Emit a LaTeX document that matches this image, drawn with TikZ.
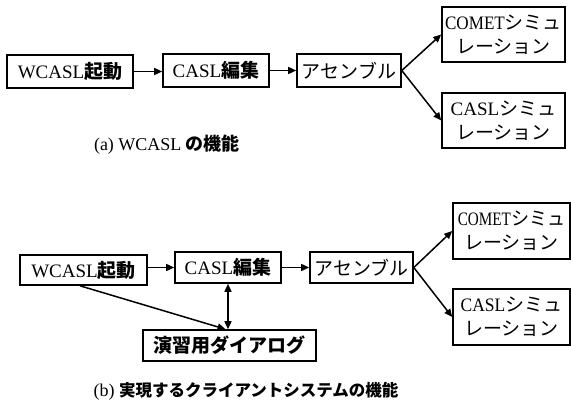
\documentclass[tikz,border=0pt]{standalone}
\usepackage{fontspec}
\setmainfont{Liberation Serif}
\newfontfamily\jp{Noto Sans CJK JP}
\usetikzlibrary{arrows.meta}
\newcommand{\xsq}[2]{\scalebox{#1}[1]{#2}}
\begin{document}
\begin{tikzpicture}[x=1pt,y=-1pt,
  box/.style={draw,line width=1.6pt,inner sep=0pt,anchor=center,
    font=\fontsize{19}{24}\selectfont,align=center},
  conn/.style={line width=1.5pt,-{Triangle[length=8pt,width=7pt]}},
  dconn/.style={line width=1.5pt,{Triangle[length=8pt,width=7pt]}-{Triangle[length=8pt,width=7pt]}},
  captxt/.style={font=\fontsize{18}{20}\selectfont,inner sep=0pt}]
\useasboundingbox (0,0) rectangle (571,405);
% (a)
\node[box,minimum width=126pt,minimum height=33pt] (w1) at (70,71.5) {WCASL{\jp\bfseries 起動}};
\node[box,minimum width=106pt,minimum height=33pt] (c1) at (216,70.5) {CASL{\jp\bfseries 編集}};
\node[box,minimum width=104pt,minimum height=33pt] (a1) at (349,70.5) {{\jp アセンブル}};
\node[box,minimum width=123pt,minimum height=55pt] (s1) at (503.5,34.5) {\xsq{0.9}{COMET}{\jp シミュ}\\{\jp レーション}};
\node[box,minimum width=123pt,minimum height=55pt] (t1) at (503.5,120.5) {CASL{\jp シミュ}\\{\jp レーション}};
\node[captxt] (capa) at (167,145) {(a) WCASL {\jp\bfseries の機能}};
\draw[conn] (w1.east) -- (w1.east -| c1.west);
\draw[conn] (c1.east) -- (a1.west);
\draw[conn] (a1.east) -- (s1.west);
\draw[conn] (a1.east) -- (t1.west);
% (b)
\node[box,minimum width=127pt,minimum height=30pt] (w2) at (83.5,270) {WCASL{\jp\bfseries 起動}};
\node[box,minimum width=106pt,minimum height=31pt] (c2) at (228,267.5) {CASL{\jp\bfseries 編集}};
\node[box,minimum width=103pt,minimum height=31pt] (a2) at (361.5,267.5) {{\jp アセンブル}};
\node[box,minimum width=117pt,minimum height=56pt] (s2) at (511.5,231) {\xsq{0.8}{COMET}{\jp\xsq{0.95}{シミュ}}\\{\jp レーション}};
\node[box,minimum width=117pt,minimum height=56pt] (t2) at (511.5,317) {\xsq{0.92}{CASL}{\jp シミュ}\\{\jp レーション}};
\node[box,minimum width=173pt,minimum height=31pt] (d2) at (229.5,345.5) {{\jp\bfseries 演習用ダイアログ}};
\node[captxt] (capb) at (246,391) {(b) {\jp\bfseries\fontsize{16.5}{20}\selectfont 実現するクライアントシステムの機能}};
\draw[conn] (c2.west -| w2.east) -- (c2.west);
\draw[conn] (c2.east) -- (a2.west);
\draw[conn] (a2.east) -- (s2.west);
\draw[conn] (a2.east) -- (t2.west);
\draw[conn] ([xshift=-3.5pt]w2.south) -- ([xshift=-4pt]d2.north);
\draw[dconn] (c2.south) -- (c2.south |- d2.north);
\end{tikzpicture}
\end{document}
